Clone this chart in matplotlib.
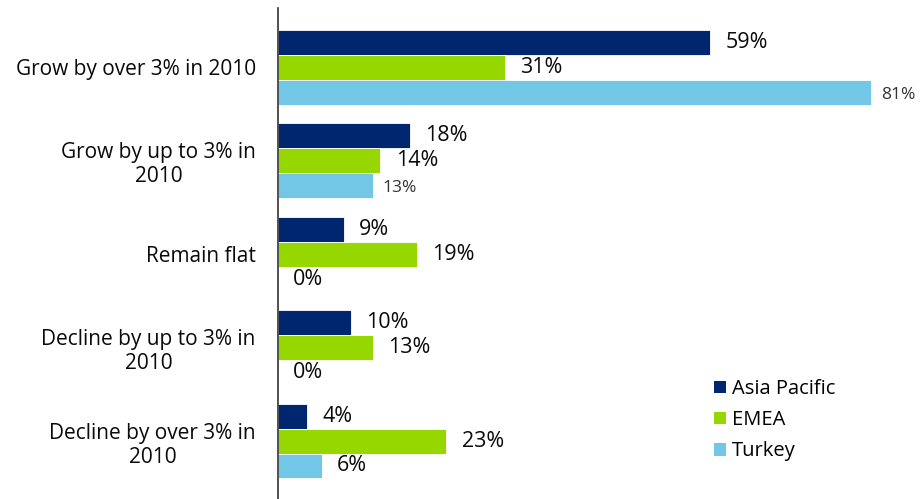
import matplotlib
matplotlib.use("Agg")
import matplotlib.pyplot as plt
from matplotlib.patches import Patch
import numpy as np

plt.rcParams['font.family'] = ['Open Sans', 'DejaVu Sans']

categories = [
    "Grow by over 3% in 2010",
    "Grow by up to 3% in\n2010",
    "Remain flat",
    "Decline by up to 3% in\n2010",
    "Decline by over 3% in\n2010",
]
series_names = ["Asia Pacific", "EMEA", "Turkey"]
asia_pacific = [59, 18, 9, 10, 4]
emea = [31, 14, 19, 13, 23]
turkey = [81, 13, 0, 0, 6]

colors = ["#00266F", "#97D700", "#72C7E6"]
# value labels printed in the smaller grey style: (series, category)
small_labels = {(2, 0), (2, 1)}

W, H = 922, 499
fig = plt.figure(figsize=(W / 100, H / 100), dpi=100)
ax = fig.add_axes([278 / W, 0, 1 - 278 / W, 1 - 8 / H])

bar_h = 0.267
pos = np.arange(len(categories))
series = [asia_pacific, emea, turkey]
for s, (vals, col) in enumerate(zip(series, colors)):
    offs = (s - 1) * bar_h
    ax.barh(pos + offs, vals, height=bar_h, color=col, edgecolor="white",
            linewidth=0.6, label=series_names[s])
    for i, v in enumerate(vals):
        if (s, i) in small_labels:
            ax.annotate(f"{v}%", (v, pos[i] + offs), xytext=(7, -2),
                        textcoords="offset points", va="center", ha="left",
                        fontsize=12.5, color="#333333", annotation_clip=False)
        else:
            ax.annotate(f"{v}%", (v, pos[i] + offs), xytext=(11, 0),
                        textcoords="offset points", va="center", ha="left",
                        fontsize=15.5, color="#0a0a0a", annotation_clip=False)

ax.set_xlim(0, 644 / 7.32)
ax.set_ylim(4.62, -0.632)
ax.set_yticks(pos)
ax.set_yticklabels(categories, fontsize=15, color="#0a0a0a", ha="right",
                   multialignment="center")
ax.tick_params(axis="y", length=0, pad=16)
ax.set_xticks([])
for side in ["top", "right", "bottom"]:
    ax.spines[side].set_visible(False)
ax.spines["left"].set_color("#333333")
ax.spines["left"].set_linewidth(1.2)

handles = [Patch(facecolor=c, edgecolor="none") for c in colors]
fig.legend(handles, series_names, loc="upper left",
           bbox_to_anchor=(704 / W, 1 - 369 / H), frameon=False,
           fontsize=14.5, handlelength=0.6, handleheight=0.6,
           handletextpad=0.3, labelspacing=0.55, borderpad=0)

fig.savefig("out.png", dpi=100)
